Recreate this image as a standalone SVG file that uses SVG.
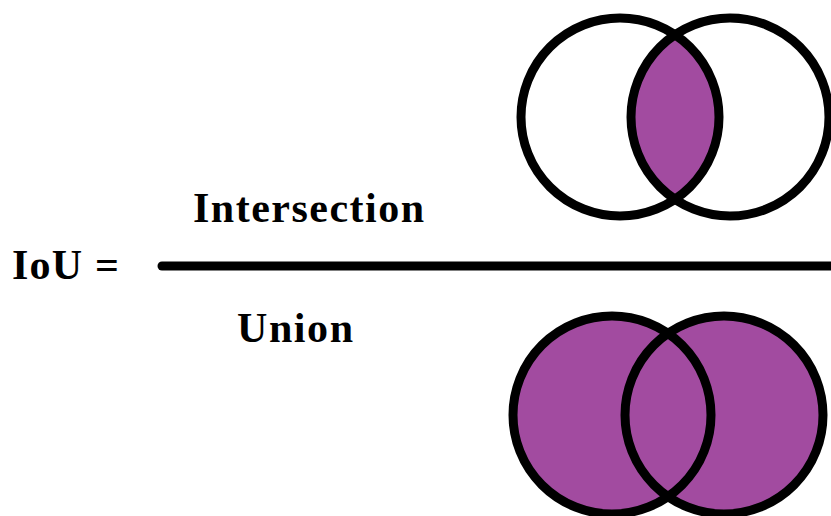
<svg xmlns="http://www.w3.org/2000/svg" width="831" height="516" viewBox="0 0 831 516">
<style>
.t{font-family:"Liberation Serif","Times New Roman",serif;font-weight:bold;font-size:42px;fill:#000}
.ring{fill:none;stroke:#000;stroke-width:9}
.fill{fill:#a24ba0;stroke:none}
</style>
<rect width="831" height="516" fill="#fff"/>
<g id="intersection-venn">
<path class="fill" d="M675,35 A99,99 0 0 1 675,199 A99,99 0 0 1 675,35 Z"/>
<circle class="ring" cx="620" cy="117" r="99"/>
<circle class="ring" cx="730" cy="117" r="99"/>
</g>
<g id="union-venn">
<circle class="fill" cx="612" cy="415" r="99"/>
<circle class="fill" cx="724" cy="415" r="99"/>
<circle class="ring" cx="612" cy="415" r="99"/>
<circle class="ring" cx="724" cy="415" r="99"/>
</g>
<g id="label-iou"><text class="t" x="12" y="279" textLength="107" lengthAdjust="spacing">IoU =</text></g>
<g id="label-intersection"><text class="t" x="193" y="222" textLength="231" lengthAdjust="spacing">Intersection</text></g>
<g id="label-union"><text class="t" x="237" y="342" textLength="116" lengthAdjust="spacing">Union</text></g>
<g id="connectors">
<line x1="162" y1="266" x2="840" y2="266" stroke="#000" stroke-width="9" stroke-linecap="round"/>
</g>
</svg>
